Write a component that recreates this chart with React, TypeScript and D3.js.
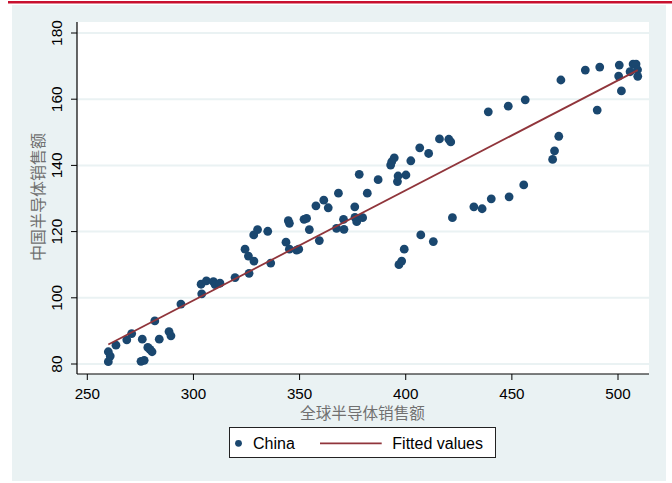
import React from "react";
import * as d3 from "d3";

// Global semiconductor sales (x) and China semiconductor sales (y)
const globalSales: number[] = [
  259.9, 260.8, 259.9, 263.5, 268.6, 270.9, 275.9, 275.3, 276.8, 278.5,
  279.5, 280.5, 281.8, 283.9, 288.5, 289.4, 294.1, 303.6, 303.9, 306.1,
  309.4, 310.2, 312.5, 319.6, 324.3, 325.9, 326.2, 328.5, 328.4, 330.2,
  335.0, 336.4, 343.6, 345.2, 348.6, 349.6, 344.7, 345.2, 352.1, 353.3,
  354.6, 357.7, 361.4, 363.5, 359.3, 367.4, 370.9, 370.7, 368.3, 376.0,
  376.1, 376.9, 379.7, 378.1, 381.9, 387.0, 392.9, 393.4, 394.6, 396.1,
  396.4, 400.1, 402.4, 406.6, 410.8, 415.9, 420.3, 421.2, 422.0, 407.1,
  413.0, 399.3, 398.1, 396.8, 432.1, 436.0, 440.3, 448.7, 455.6, 438.9,
  448.3, 456.3, 469.2, 470.1, 472.1, 473.1, 484.6, 490.2, 491.4, 500.6,
  500.3, 501.6, 505.7, 507.1, 508.5, 509.2, 509.3,
];
const chinaSales: number[] = [
  83.7, 82.4, 80.7, 85.7, 87.3, 89.2, 87.5, 80.8, 81.1, 85.0,
  84.4, 83.7, 93.0, 87.5, 89.8, 88.5, 98.1, 104.1, 101.2, 105.1,
  104.9, 104.0, 104.4, 106.1, 114.7, 112.6, 107.4, 111.1, 119.0, 120.6,
  120.1, 110.5, 116.8, 114.7, 114.4, 114.7, 123.3, 122.5, 123.7, 124.0,
  120.6, 127.8, 129.5, 127.2, 117.3, 121.0, 120.7, 123.7, 131.6, 127.5,
  124.3, 123.0, 124.2, 137.3, 131.6, 135.7, 140.1, 141.1, 142.3, 135.1,
  136.8, 137.1, 141.4, 145.3, 143.6, 148.0, 147.9, 147.1, 124.2, 119.0,
  117.0, 114.7, 111.1, 110.0, 127.5, 126.9, 129.9, 130.5, 134.1, 156.2,
  157.9, 159.8, 141.8, 144.4, 148.8, 165.8, 168.8, 156.7, 169.7, 170.3,
  167.0, 162.5, 168.3, 170.6, 170.6, 168.9, 166.9,
];

const xTicks: number[] = [250, 300, 350, 400, 450, 500];
const yTicks: number[] = [80, 100, 120, 140, 160, 180];

// Linear fit coefficients (Fitted values)
const FIT_INTERCEPT = -0.46;
const FIT_SLOPE = 0.3323;

const xTitle = "全球半导体销售额";
const yTitle = "中国半导体销售额";
const legendLabels = ["China", "Fitted values"];

const W = 672;
const H = 483;
const PLOT = { left: 77, right: 649, top: 22, bottom: 374 };

const MARKER = "#1a476f";
const FITCOL = "#90353b";
const BG = "#eaf2f3";

export default function App() {
  const x = d3.scaleLinear().domain([250, 500]).range([87.3, 618]);
  const y = d3.scaleLinear().domain([80, 180]).range([364, 33]);

  const xMin = d3.min(globalSales) as number;
  const xMax = d3.max(globalSales) as number;
  const fitPts: [number, number][] = [xMin, xMax].map((v) => [v, FIT_INTERCEPT + FIT_SLOPE * v]);
  const line = d3
    .line<[number, number]>()
    .x((d) => x(d[0]))
    .y((d) => y(d[1]));

  const tickFont = "Liberation Sans, Arial, sans-serif";
  const cjkFont = "'Noto Sans CJK SC', sans-serif";

  return (
    <svg
      width={W}
      height={H}
      style={{ position: "absolute", left: 0, top: 0, background: "#fff" }}
    >
      <rect x={0} y={0} width={W} height={H} fill="#fff" />
      {/* top red rule */}
      <rect x={8} y={1} width={W - 8} height={2.5} fill="#c8102e" />
      {/* graph region */}
      <rect x={12} y={5} width={654} height={476} fill={BG} />
      {/* plot region */}
      <rect
        x={PLOT.left}
        y={PLOT.top}
        width={PLOT.right - PLOT.left}
        height={PLOT.bottom - PLOT.top}
        fill="#fff"
      />
      {/* grid lines */}
      {yTicks.map((t) => (
        <line
          key={"g" + t}
          x1={PLOT.left}
          x2={PLOT.right}
          y1={y(t)}
          y2={y(t)}
          stroke={BG}
          strokeWidth={2}
        />
      ))}
      {/* points */}
      {globalSales.map((gx, i) => (
        <circle key={"p" + i} cx={x(gx)} cy={y(chinaSales[i])} r={4.4} fill={MARKER} />
      ))}
      {/* fitted line */}
      <path d={line(fitPts) || ""} fill="none" stroke={FITCOL} strokeWidth={1.8} />
      {/* axes */}
      <line x1={PLOT.left} x2={PLOT.left} y1={PLOT.top} y2={PLOT.bottom} stroke="#000" strokeWidth={1.2} />
      <line x1={PLOT.left} x2={PLOT.right} y1={PLOT.bottom} y2={PLOT.bottom} stroke="#000" strokeWidth={1.2} />
      {yTicks.map((t) => (
        <g key={"yt" + t}>
          <line x1={PLOT.left - 6} x2={PLOT.left} y1={y(t)} y2={y(t)} stroke="#000" strokeWidth={1} />
          <text
            transform={`translate(61.5,${y(t)}) rotate(-90)`}
            textAnchor="middle"
            fontFamily={tickFont}
            fontSize={15.5}
            fill="#000"
          >
            {t}
          </text>
        </g>
      ))}
      {xTicks.map((t) => (
        <g key={"xt" + t}>
          <line x1={x(t)} x2={x(t)} y1={PLOT.bottom} y2={PLOT.bottom + 6} stroke="#000" strokeWidth={1} />
          <text
            x={x(t)}
            y={398.8}
            textAnchor="middle"
            fontFamily={tickFont}
            fontSize={15.2}
            fill="#000"
          >
            {t}
          </text>
        </g>
      ))}
      {/* axis titles */}
      <text
        x={362.5}
        y={418.5}
        textAnchor="middle"
        fontFamily={cjkFont}
        fontSize={15.6}
        fill="#707070"
      >
        {xTitle}
      </text>
      <text
        transform={`translate(44,197) rotate(-90)`}
        textAnchor="middle"
        fontFamily={cjkFont}
        fontSize={16}
        fill="#707070"
      >
        {yTitle}
      </text>
      {/* legend */}
      <rect x={229.5} y={427.5} width={266} height={30} fill="#fff" stroke="#222" strokeWidth={1} />
      <circle cx={238.5} cy={443.3} r={3.4} fill={MARKER} />
      <text x={253} y={448.8} fontFamily={tickFont} fontSize={16} fill="#000">
        {legendLabels[0]}
      </text>
      <line x1={320} x2={381.7} y1={443.3} y2={443.3} stroke={FITCOL} strokeWidth={1.8} />
      <text x={392.3} y={448.8} fontFamily={tickFont} fontSize={16} fill="#000">
        {legendLabels[1]}
      </text>
    </svg>
  );
}
